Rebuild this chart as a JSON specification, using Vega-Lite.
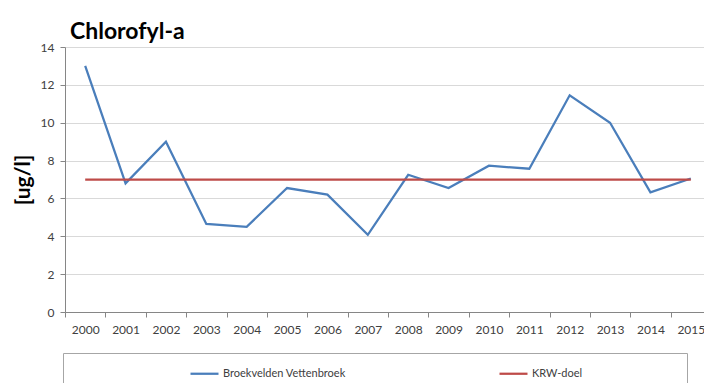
{
  "$schema": "https://vega.github.io/schema/vega-lite/v6.json",
  "width": 646,
  "height": 265,
  "autosize": {"type": "none"},
  "padding": {"left": 65, "top": 47, "right": 0, "bottom": 71},
  "background": "white",
  "config": {
    "font": "Lato",
    "view": {"stroke": null}
  },
  "title": {
    "text": "Chlorofyl-a",
    "anchor": "start",
    "frame": "group",
    "font": "Lato",
    "fontSize": 23,
    "fontWeight": "bold",
    "color": "#000000",
    "offset": -3,
    "dx": 5
  },
  "data": {
    "values": [
      {"jaar": "2000", "reeks": "Broekvelden Vettenbroek", "waarde": 13.0},
      {"jaar": "2001", "reeks": "Broekvelden Vettenbroek", "waarde": 6.8},
      {"jaar": "2002", "reeks": "Broekvelden Vettenbroek", "waarde": 9.0},
      {"jaar": "2003", "reeks": "Broekvelden Vettenbroek", "waarde": 4.65},
      {"jaar": "2004", "reeks": "Broekvelden Vettenbroek", "waarde": 4.5},
      {"jaar": "2005", "reeks": "Broekvelden Vettenbroek", "waarde": 6.55},
      {"jaar": "2006", "reeks": "Broekvelden Vettenbroek", "waarde": 6.2},
      {"jaar": "2007", "reeks": "Broekvelden Vettenbroek", "waarde": 4.08},
      {"jaar": "2008", "reeks": "Broekvelden Vettenbroek", "waarde": 7.25},
      {"jaar": "2009", "reeks": "Broekvelden Vettenbroek", "waarde": 6.55},
      {"jaar": "2010", "reeks": "Broekvelden Vettenbroek", "waarde": 7.73},
      {"jaar": "2011", "reeks": "Broekvelden Vettenbroek", "waarde": 7.57},
      {"jaar": "2012", "reeks": "Broekvelden Vettenbroek", "waarde": 11.45},
      {"jaar": "2013", "reeks": "Broekvelden Vettenbroek", "waarde": 10.0},
      {"jaar": "2014", "reeks": "Broekvelden Vettenbroek", "waarde": 6.32},
      {"jaar": "2015", "reeks": "Broekvelden Vettenbroek", "waarde": 7.05},
      {"jaar": "2000", "reeks": "KRW-doel", "waarde": 7},
      {"jaar": "2001", "reeks": "KRW-doel", "waarde": 7},
      {"jaar": "2002", "reeks": "KRW-doel", "waarde": 7},
      {"jaar": "2003", "reeks": "KRW-doel", "waarde": 7},
      {"jaar": "2004", "reeks": "KRW-doel", "waarde": 7},
      {"jaar": "2005", "reeks": "KRW-doel", "waarde": 7},
      {"jaar": "2006", "reeks": "KRW-doel", "waarde": 7},
      {"jaar": "2007", "reeks": "KRW-doel", "waarde": 7},
      {"jaar": "2008", "reeks": "KRW-doel", "waarde": 7},
      {"jaar": "2009", "reeks": "KRW-doel", "waarde": 7},
      {"jaar": "2010", "reeks": "KRW-doel", "waarde": 7},
      {"jaar": "2011", "reeks": "KRW-doel", "waarde": 7},
      {"jaar": "2012", "reeks": "KRW-doel", "waarde": 7},
      {"jaar": "2013", "reeks": "KRW-doel", "waarde": 7},
      {"jaar": "2014", "reeks": "KRW-doel", "waarde": 7},
      {"jaar": "2015", "reeks": "KRW-doel", "waarde": 7}
    ]
  },
  "mark": {"type": "line", "strokeWidth": 2.25},
  "encoding": {
    "x": {
      "field": "jaar",
      "type": "ordinal",
      "bandPosition": 0.5,
      "scale": {"type": "band", "paddingInner": 0, "paddingOuter": 0},
      "axis": {
        "title": null,
        "labelAngle": 0,
        "labelFontSize": 12,
        "labelColor": "#404040",
        "labelPadding": 7,
        "tickBand": "extent",
        "tickSize": 5,
        "tickColor": "#868686",
        "domainColor": "#868686",
        "grid": false
      }
    },
    "y": {
      "field": "waarde",
      "type": "quantitative",
      "scale": {"domain": [0, 14], "nice": false},
      "axis": {
        "title": "[ug/l]",
        "titleFontSize": 21,
        "titleFontWeight": "bold",
        "titleColor": "#000000",
        "titlePadding": 7,
        "values": [0, 2, 4, 6, 8, 10, 12, 14],
        "labelFontSize": 12,
        "labelColor": "#404040",
        "labelPadding": 6,
        "tickSize": 5,
        "tickColor": "#868686",
        "domainColor": "#868686",
        "gridColor": "#d9d9d9",
        "gridWidth": 1
      }
    },
    "color": {
      "field": "reeks",
      "type": "nominal",
      "scale": {
        "domain": ["Broekvelden Vettenbroek", "KRW-doel"],
        "range": ["#4a7ebb", "#be4b48"]
      },
      "legend": {
        "orient": "none",
        "legendX": -2,
        "legendY": 306,
        "direction": "horizontal",
        "title": " ",
        "titleOrient": "right",
        "titlePadding": 100,
        "symbolType": "stroke",
        "symbolSize": 784,
        "symbolStrokeWidth": 2.25,
        "symbolOffset": 121,
        "labelOffset": 3,
        "labelFontSize": 11,
        "labelColor": "#404040",
        "columnPadding": 31,
        "strokeColor": "#a6a6a6",
        "padding": 5
      }
    }
  }
}
